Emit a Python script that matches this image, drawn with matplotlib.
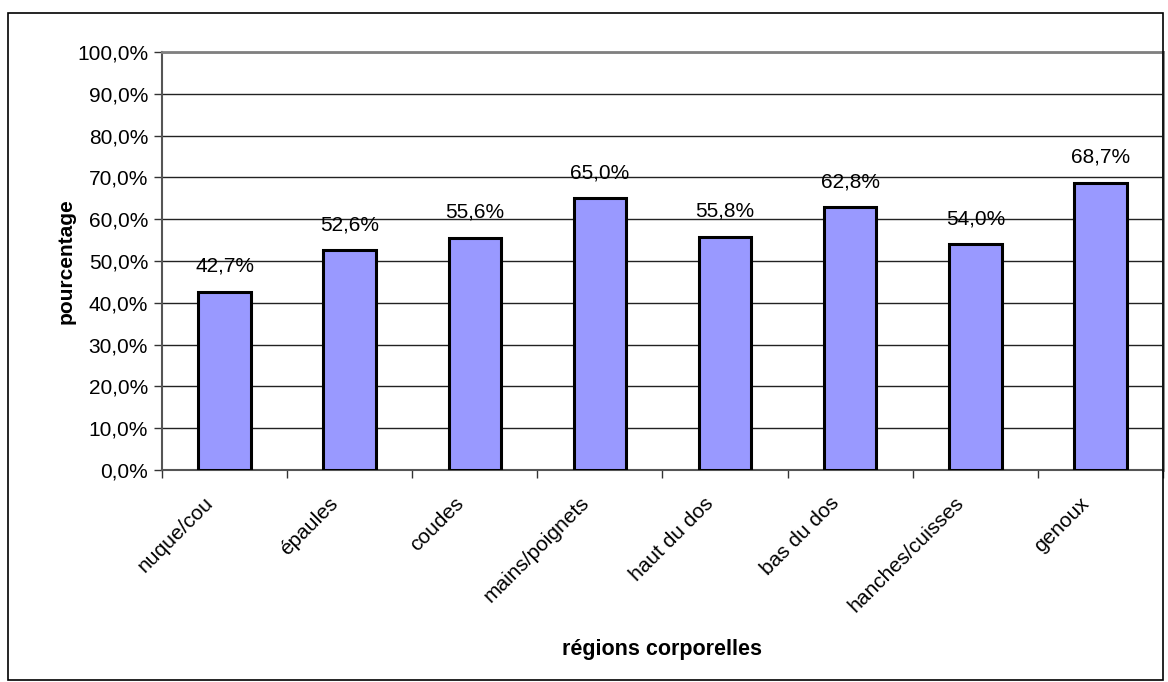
import matplotlib.pyplot as plt
import matplotlib.transforms as mtransforms
from matplotlib.patches import Rectangle
from matplotlib.ticker import FixedLocator

categories = ['nuque/cou', 'épaules', 'coudes', 'mains/poignets',
              'haut du dos', 'bas du dos', 'hanches/cuisses', 'genoux']
values = [42.7, 52.6, 55.6, 65.0, 55.8, 62.8, 54.0, 68.7]
yticks = [0, 10, 20, 30, 40, 50, 60, 70, 80, 90, 100]

plt.rcParams['font.family'] = ['Liberation Sans', 'DejaVu Sans']
FS = 15

fig = plt.figure(figsize=(11.68, 6.82), dpi=100)
ax = fig.add_axes([162 / 1168, 1 - 470 / 682, (1163 - 162) / 1168, (470 - 52) / 682])

# outer frame of the chart
fig.patches.append(Rectangle((8 / 1168, 2 / 682), 1155 / 1168, 667 / 682,
                             transform=fig.transFigure, fill=False,
                             edgecolor='black', linewidth=1.2))

x = list(range(len(categories)))
ax.bar(x, values, width=0.42, color='#9999FF', edgecolor='black',
       linewidth=2.2, zorder=3)

for xi, v in zip(x, values):
    ax.text(xi, v + 3.8, f'{v:.1f}%'.replace('.', ','), ha='center',
            va='bottom', fontsize=FS)

ax.set_xlim(-0.5, len(categories) - 0.5)
ax.set_ylim(0, 100)
ax.set_yticks(yticks)
ax.set_yticklabels([f'{t:.1f}%'.replace('.', ',') for t in yticks], fontsize=FS)
ax.yaxis.grid(True, color='#222222', linewidth=1.0, zorder=0)

# category labels, rotated, a bit left of the bar centre
ax.set_xticks(x)
ax.set_xticklabels([])
lab_tr = ax.get_xaxis_transform() + mtransforms.ScaledTranslation(
    -15 / 72, -17 / 72, fig.dpi_scale_trans)
for xi, cat in zip(x, categories):
    ax.text(xi, 0, cat, transform=lab_tr, rotation=45, rotation_mode='anchor',
            ha='right', va='top', fontsize=FS)

ax.xaxis.set_minor_locator(FixedLocator([i - 0.5 for i in range(len(categories) + 1)]))
ax.tick_params(axis='x', which='major', length=0)
ax.tick_params(axis='x', which='minor', length=6, width=1, color='#333333')
ax.tick_params(axis='y', length=6, width=1, color='#333333', pad=4)

for side in ['top', 'right']:
    ax.spines[side].set_color('#808080')
    ax.spines[side].set_linewidth(2)
ax.spines['left'].set_color('#555555')
ax.spines['left'].set_linewidth(1.5)
ax.spines['bottom'].set_color('#555555')
ax.spines['bottom'].set_linewidth(1.5)

ax.set_ylabel('pourcentage', fontsize=FS, fontweight='bold', labelpad=1)
ax.set_xlabel('régions corporelles', fontsize=15.5, fontweight='bold', va='center')
ax.xaxis.set_label_coords(0.5, -0.43)

fig.savefig('out.png', dpi=100)
